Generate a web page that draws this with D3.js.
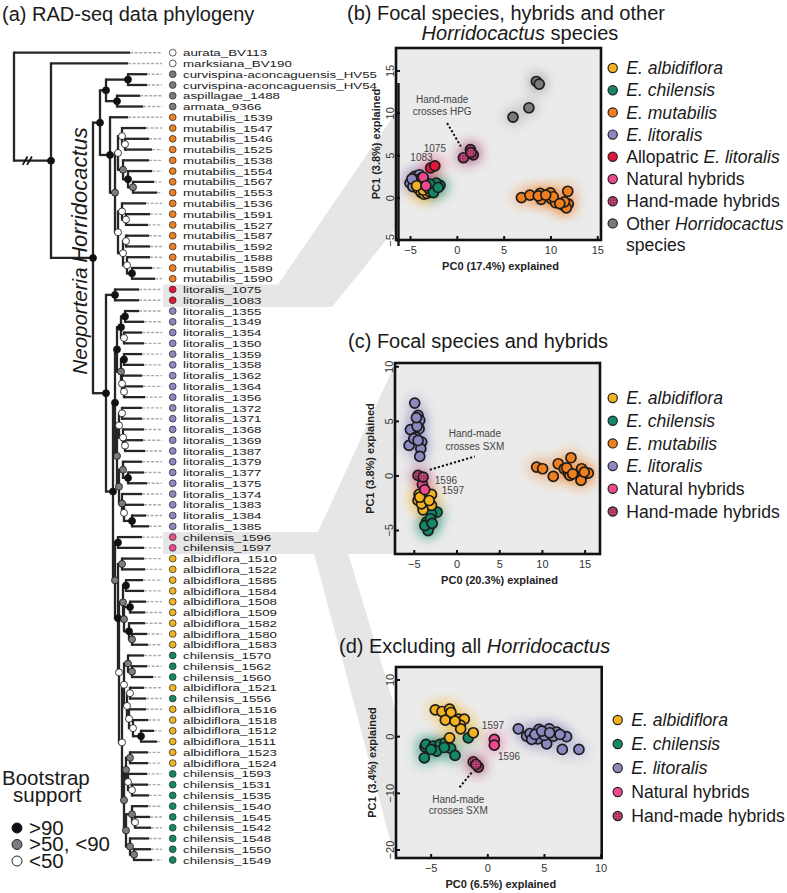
<!DOCTYPE html>
<html><head><meta charset="utf-8">
<script src="https://cdn.jsdelivr.net/npm/d3@7"></script>
<style>
body{margin:0;background:#fff}
svg{display:block;font-family:"Liberation Sans",Arial,Helvetica,sans-serif}
</style>
</head><body>
<svg id="fig" width="787" height="893"></svg>
<script>
// ================= DATA =================
// Phylogeny (Newick). Number after ':' = node depth from root (arbitrary units);
// internal-node labels = bootstrap class: b >90, g >50 <90, w <50
const treeNewick = "(aurata_BV113:116,(marksiana_BV190:114,((((curvispina-aconcaguensis_HV55:133,curvispina-aconcaguensis_HV54:133)b:114,(aspillagae_1488:126,armata_9366:129)b:103)b:92,(mutabilis_1539:114,(((mutabilis_1547:132,(mutabilis_1546:135,mutabilis_1525:138)w:111)w:108,(mutabilis_1538:135,(mutabilis_1554:138,(mutabilis_1567:140,mutabilis_1553:143)g:119)b:114)g:109)w:104,((mutabilis_1536:132,(mutabilis_1591:136,mutabilis_1527:134)w:112)w:108,((mutabilis_1587:135,mutabilis_1592:136)w:112,(mutabilis_1588:136,(mutabilis_1589:138,mutabilis_1590:141)b:118)w:113)w:109)w:104)g:101)b:96)b:86,((litoralis_1075:125,litoralis_1083:125)b:101,(((((litoralis_1355:125,litoralis_1349:130)b:111,(litoralis_1354:128,litoralis_1350:130)w:110)b:107,((litoralis_1359:128,litoralis_1358:130)b:110,(litoralis_1362:128,(litoralis_1364:129,litoralis_1356:131)w:110)w:108)g:107)b:103,(((litoralis_1372:128,litoralis_1371:128)w:108,(litoralis_1368:130,(litoralis_1369:129,litoralis_1387:131)w:111)w:109)w:105,((litoralis_1379:128,(litoralis_1377:130,litoralis_1375:133)b:114)g:109,(litoralis_1374:128,(litoralis_1383:130,(litoralis_1384:132,litoralis_1385:135)b:118)w:110)g:108)g:105)g:103)b:101,((chilensis_1596:128,chilensis_1597:130)b:104,((albidiflora_1510:130,albidiflora_1522:131)g:108,(((albidiflora_1585:129,albidiflora_1584:130)b:112,((albidiflora_1508:132,albidiflora_1509:131)b:116,(albidiflora_1582:131,(albidiflora_1580:133,albidiflora_1583:134)g:118)b:115)g:110)g:109,(((chilensis_1570:130,(chilensis_1562:133,chilensis_1560:139)g:118)g:114,((albidiflora_1521:130,chilensis_1556:132)w:116,(albidiflora_1516:132,(albidiflora_1518:134,(albidiflora_1512:140,albidiflora_1511:143)b:127)w:119)w:115)w:113)w:110,(((albidiflora_1523:134,albidiflora_1524:134)g:116,(chilensis_1593:133,(chilensis_1531:134,chilensis_1535:135)w:118)w:114)g:112,((chilensis_1540:134,(chilensis_1545:136,chilensis_1542:137)w:121)g:118,(chilensis_1548:135,(chilensis_1550:137,chilensis_1549:138)g:120)g:116)g:112)g:110)w:108)w:105)b:104)g:101)b:99)b:92)b:79)b:37)r:0;";

const outgroupTips = ["aurata_BV113","marksiana_BV190"];
const otherHorridoTips = ["curvispina-aconcaguensis_HV55","curvispina-aconcaguensis_HV54","aspillagae_1488","armata_9366"];
const allopatricTips = ["litoralis_1075","litoralis_1083"];
const naturalHybridTips = ["chilensis_1596","chilensis_1597"];

// PCA (b) all Horridocactus
const bAlbidiflora = [[-4.1,1.0],[-3.8,0.6],[-3.5,0.4],[-3.2,0.5],[-2.9,0.7],[-3.6,0.9],[-4.3,1.4],[-3.0,1.1]];
const bChilensis   = [[-1.8,1.45],[-2.6,1.0],[-2.2,1.7],[-2.9,1.6],[-2.5,0.6],[-2.0,1.2]];
const bMutabilis   = [[6.9,0.0],[7.8,0.3],[8.9,0.5],[9.0,-0.2],[10.0,0.55],[10.1,-0.15],[10.55,-0.6],[11.4,-0.9],[11.85,0.75],[11.9,-0.75],[11.7,-1.2],[10.3,0.1],[8.7,0.2],[11.5,-0.5],[9.5,0.3],[11.0,-0.7]];
const bLitoralis   = [[-5.0,1.7],[-4.5,2.5],[-4.0,2.7],[-4.7,1.3],[-4.2,2.1],[-3.7,2.4],[-4.4,1.9],[-3.9,1.6],[-4.8,2.2],[-3.5,2.0]];
const bAllopatric  = [[-2.8,3.5],[-2.35,3.75]];
const bNatural     = [[-3.6,2.4],[-3.3,1.4]];
const bHandmade    = [[0.7,4.7],[1.45,5.65],[1.75,5.05],[1.5,5.3]];
const bOther       = [[8.5,13.7],[8.8,13.4],[7.7,10.6],[6.0,9.5]];

// PCA (c) focal species and hybrids
const cAlbidiflora = [[-4.38,-1.74],[-2.93,-1.74],[-4.5,-2.29],[-2.93,-2.75],[-3.91,-3.15],[-4.1,-2.6],[-3.2,-2.3],[-4.3,-2.0]];
const cChilensis   = [[-3.63,-1.93],[-2.27,-3.37],[-2.93,-3.52],[-3.52,-4.28],[-3.13,-4.59],[-3.33,-5.05],[-3.7,-4.6],[-3.05,-3.97],[-2.85,-4.4]];
const cMutabilis   = [[9.38,0.76],[10.08,0.61],[11.33,-0.09],[11.91,1.07],[12.62,0.61],[13.4,1.62],[13.09,0.21],[13.28,0.0],[14.65,0.61],[14.77,0.0],[14.57,-0.46],[15.43,0.21],[14.96,0.3],[12.9,0.7],[13.6,0.15]];
const cLitoralis   = [[-4.89,6.63],[-4.5,5.5],[-4.3,5.05],[-5.39,4.19],[-4.38,4.28],[-4.77,3.51],[-4.07,3.06],[-5.55,2.75],[-4.18,2.45],[-4.3,1.74],[-4.62,4.5],[-5.0,3.37],[-4.5,3.2],[-4.69,5.29]];
const cNatural     = [[-3.99,-0.83],[-3.72,-1.31]];
const cHandmade    = [[-4.5,0.0],[-3.91,-0.15]];

// PCA (d) excluding Horridocactus
const dAlbidiflora = [[-4.59,4.65],[-4.0,4.35],[-3.33,4.76],[-3.21,4.17],[-3.71,2.82],[-2.53,3.0],[-2.03,3.0],[-2.38,1.94],[-2.35,1.3],[-1.24,0.6],[-3.33,-0.29],[-2.85,2.65]];
const dChilensis   = [[-5.5,-1.88],[-5.41,-1.46],[-4.77,-1.76],[-4.17,-1.46],[-3.73,-1.17],[-4.47,-2.65],[-3.23,-2.17],[-2.85,-3.4],[-5.56,-3.82],[-1.68,-0.29],[-4.97,-2.35],[-3.8,-2.0]];
const dLitoralis   = [[2.74,1.3],[3.47,0.0],[3.77,0.47],[4.56,1.18],[5.47,1.3],[6.12,0.71],[7.0,-0.1],[6.62,-2.35],[8.09,-2.35],[5.24,-1.35],[4.45,-0.47],[3.92,-0.58],[5.83,0.0],[5.03,0.12],[4.21,0.3],[4.8,0.9],[6.42,0.3],[5.5,0.6]];
const dNatural     = [[0.62,-0.58],[0.62,-1.59]];
const dHandmade    = [[-1.24,-4.52],[-0.79,-5.46],[-1.0,-5.0]];

// Axis ticks
const bXTicks = [-5,0,5,10,15], bYTicks = [-5,0,5,10,15];
const cXTicks = [-5,0,5,10,15], cYTicks = [-5,0,5,10];
const dXTicks = [-5,0,5,10],    dYTicks = [-20,-10,0,10];

// Legends
const legendB = ["albidiflora","chilensis","mutabilis","litoralis","allopatric","natural","handmade","other"];
const legendC = ["albidiflora","chilensis","mutabilis","litoralis","natural","handmade"];
const legendD = ["albidiflora","chilensis","litoralis","natural","handmade"];
const bootstrapClasses = [["b",">90"],["g",">50, <90"],["w","<50"]];

// ================= STYLE =================
const colors = {albidiflora:"#f3b21f", chilensis:"#138869", mutabilis:"#f07f1f", litoralis:"#8b89c0",
  allopatric:"#e0173a", natural:"#ec4a8d", handmade:"#9e2e5e", other:"#7a7a7a", outgroup:"#ffffff"};
const supportFill = {b:"#111", g:"#7d7d7d", w:"#fff"};
const legendText = {
  albidiflora:[["E. albidiflora",1]], chilensis:[["E. chilensis",1]], mutabilis:[["E. mutabilis",1]],
  litoralis:[["E. litoralis",1]], allopatric:[["Allopatric ",0],["E. litoralis",1]],
  natural:[["Natural hybrids",0]], handmade:[["Hand-made hybrids",0]], other:[["Other ",0],["Horridocactus",1]]
};

const svg = d3.select("#fig");
const defs = svg.append("defs");
const pat = defs.append("pattern").attr("id","hmpat").attr("width",2.6).attr("height",2.6).attr("patternUnits","userSpaceOnUse");
pat.append("rect").attr("width",2.6).attr("height",2.6).attr("fill",colors.handmade);
pat.append("circle").attr("cx",1.3).attr("cy",1.3).attr("r",0.65).attr("fill","#f27bab");
defs.append("filter").attr("id","blur").attr("x","-50%").attr("y","-50%").attr("width","200%").attr("height","200%")
  .append("feGaussianBlur").attr("stdDeviation",5.5);
const fillOf = g => g==="handmade" ? "url(#hmpat)" : colors[g];

// ================= CONNECTOR BANDS =================
const bandFill = "#e6e6e6";
[
  [[163,284.5],[278,284.5],[396,112],[396,228],[332,307],[163,307]],
  [[163,532],[318,532],[396,362],[396,554],[163,554]],
  [[314,553],[348,553],[396,712],[396,862]]
].forEach(p => svg.append("polygon").attr("points", p.map(q=>q.join(",")).join(" ")).attr("fill", bandFill));

// ================= TREE =================
function parseNewick(s){
  let i=0;
  function node(){
    const n={children:[]};
    if(s[i]==="("){ i++; n.children.push(node()); while(s[i]===","){ i++; n.children.push(node()); } i++; }
    let lab=""; while(i<s.length && !":,);".includes(s[i])) lab+=s[i++];
    let len=""; if(s[i]===":"){ i++; while(i<s.length && !",);".includes(s[i])) len+=s[i++]; }
    if(n.children.length) n.support=lab; else n.name=lab;
    n.h=+len;
    return n;
  }
  return node();
}
const root = d3.hierarchy(parseNewick(treeNewick), d => d.children.length ? d.children : null);
const leaves = root.leaves();
const tipY = d3.scaleLinear().domain([0, leaves.length-1]).range([52.7, 860]);
const treeX = d3.scaleLinear().domain([0,148]).range([14,162]);
leaves.forEach((l,i)=> l.y = tipY(i));
root.eachAfter(n => { if(n.children) n.y = (n.children[0].y + n.children[n.children.length-1].y)/2; });
root.each(n => n.x = treeX(n.data.h));

const tg = svg.append("g");
const branchCol = "#262626";
tg.selectAll("line.ext").data(leaves).join("line")
  .attr("x1", d=>d.x).attr("x2", treeX(148)).attr("y1", d=>d.y).attr("y2", d=>d.y)
  .attr("stroke","#a9a9a9").attr("stroke-width",1.4).attr("stroke-dasharray","3,1.6");
tg.selectAll("line.h").data(root.descendants().filter(n=>n.parent)).join("line")
  .attr("x1", d=>d.parent.x).attr("x2", d=>d.x).attr("y1", d=>d.y).attr("y2", d=>d.y)
  .attr("stroke",branchCol).attr("stroke-width",2.3);
tg.selectAll("line.v").data(root.descendants().filter(n=>n.children)).join("line")
  .attr("x1", d=>d.x).attr("x2", d=>d.x)
  .attr("y1", d=>d.children[0].y-1.1).attr("y2", d=>d.children[d.children.length-1].y+1.1)
  .attr("stroke",branchCol).attr("stroke-width",2.3);
const brk = root.children[1];
const bx = treeX(brk.data.h*0.36), by = brk.y;
[-2.2,2.2].forEach(o => tg.append("line").attr("x1",bx+o-2.4).attr("y1",by+4.2).attr("x2",bx+o+2.4).attr("y2",by-4.2)
  .attr("stroke","#111").attr("stroke-width",1.7));
tg.selectAll("circle.bs").data(root.descendants().filter(n=>n.children && supportFill[n.data.support])).join("circle")
  .attr("cx", d=>d.x).attr("cy", d=>d.y).attr("r",3.5)
  .attr("fill", d=>supportFill[d.data.support]).attr("stroke","#111").attr("stroke-width",0.8);

function tipGroup(name){
  if(outgroupTips.includes(name)) return "outgroup";
  if(otherHorridoTips.includes(name)) return "other";
  if(allopatricTips.includes(name)) return "allopatric";
  if(naturalHybridTips.includes(name)) return "natural";
  return name.split("_")[0];
}
tg.selectAll("circle.tip").data(leaves).join("circle")
  .attr("cx",172.7).attr("cy",d=>d.y).attr("r",3.4)
  .attr("fill", d=>colors[tipGroup(d.data.name)]).attr("stroke","#333").attr("stroke-width",0.8);
tg.selectAll("text.tip").data(leaves).join("text")
  .attr("transform", d=>`translate(183,${d.y+3.6}) scale(1.36,1)`)
  .attr("font-size",9.8).attr("fill","#1a1a1a")
  .text(d=>d.data.name);

// clade labels
svg.append("text").attr("transform","translate(87,195) rotate(-90)").attr("text-anchor","middle")
  .attr("font-size",22).attr("font-style","italic").attr("fill","#1a1a1a").text("Horridocactus");
svg.append("text").attr("transform","translate(87,321) rotate(-90)").attr("text-anchor","middle")
  .attr("font-size",20.5).attr("font-style","italic").attr("fill","#1a1a1a").text("Neoporteria");

// bootstrap legend
svg.append("text").attr("x",2).attr("y",785).attr("font-size",20.5).attr("fill","#1a1a1a").text("Bootstrap");
svg.append("text").attr("x",13).attr("y",802).attr("font-size",20.5).attr("fill","#1a1a1a").text("support");
bootstrapClasses.forEach((c,i)=>{
  const y = 828 + i*16.5;
  svg.append("circle").attr("cx",17).attr("cy",y).attr("r",5).attr("fill",supportFill[c[0]]).attr("stroke","#111").attr("stroke-width",0.9);
  svg.append("text").attr("x",29).attr("y",y+6.5).attr("font-size",20.5).attr("fill","#1a1a1a").text(c[1]);
});

// ================= TITLES =================
svg.append("text").attr("x",2).attr("y",21).attr("font-size",20).attr("fill","#1a1a1a").text("(a) RAD-seq data phylogeny");
svg.append("text").attr("x",347).attr("y",19.5).attr("font-size",20).attr("fill","#1a1a1a").text("(b) Focal species, hybrids and other");
const t2 = svg.append("text").attr("x",520).attr("y",40).attr("text-anchor","middle").attr("font-size",20).attr("fill","#1a1a1a");
t2.append("tspan").attr("font-style","italic").text("Horridocactus");
t2.append("tspan").text(" species");
svg.append("text").attr("x",348).attr("y",348).attr("font-size",20).attr("fill","#1a1a1a").text("(c) Focal species and hybrids");
const t4 = svg.append("text").attr("x",339).attr("y",653).attr("font-size",20).attr("fill","#1a1a1a");
t4.append("tspan").text("(d) Excluding all ");
t4.append("tspan").attr("font-style","italic").text("Horridocactus");

// ================= PCA PANELS =================
function panel(cfg){
  const {x0,x1,y0,y1,xd,yd,xt,yt,series,xlab,ylab,ylabX,notes,lines,extraSpine} = cfg;
  const x = d3.scaleLinear().domain(xd).range([x0,x1]);
  const y = d3.scaleLinear().domain(yd).range([y1,y0]);
  const g = svg.append("g");
  const cid = "clip"+Math.round(y0);
  defs.append("clipPath").attr("id",cid).append("rect").attr("x",x0).attr("y",y0).attr("width",x1-x0).attr("height",y1-y0);
  g.append("rect").attr("x",x0).attr("y",y0).attr("width",x1-x0).attr("height",y1-y0).attr("fill","#ebebeb");
  const halo = g.append("g").attr("clip-path",`url(#${cid})`).append("g").attr("filter","url(#blur)");
  series.forEach(([grp,pts]) => halo.selectAll(null).data(pts).join("circle")
    .attr("cx",d=>x(d[0])).attr("cy",d=>y(d[1])).attr("r",10)
    .attr("fill", colors[grp]).attr("fill-opacity",0.28));
  series.forEach(([grp,pts]) => g.selectAll(null).data(pts).join("circle")
    .attr("cx",d=>x(d[0])).attr("cy",d=>y(d[1])).attr("r",5)
    .attr("fill", fillOf(grp)).attr("stroke","#1c1c1c").attr("stroke-width",1.7));
  (lines||[]).forEach(l => g.append("line").attr("x1",x(l[0][0])).attr("y1",y(l[0][1])).attr("x2",x(l[1][0])).attr("y2",y(l[1][1]))
    .attr("stroke","#111").attr("stroke-width",2).attr("stroke-dasharray","2.2,2"));
  (notes||[]).forEach(n => g.append("text").attr("x",x(n[0])).attr("y",y(n[1])).attr("text-anchor",n[3]||"middle")
    .attr("font-size",10).attr("fill","#444").text(n[2]));
  const ax = g.append("g").attr("transform",`translate(0,${y1})`)
    .call(d3.axisBottom(x).tickValues(xt).tickSize(-4).tickPadding(6.5));
  const ay = g.append("g").attr("transform",`translate(${x0},0)`)
    .call(d3.axisLeft(y).tickValues(yt).tickSize(-4).tickPadding(0));
  [ax,ay].forEach(a => { a.select(".domain").remove(); a.selectAll("line").attr("stroke","#111").attr("stroke-width",2);
    a.selectAll("text").attr("font-size",11).attr("fill","#333").attr("font-family","Liberation Sans, Arial, sans-serif"); });
  ay.selectAll("text").attr("transform","rotate(-90)").attr("text-anchor","middle").attr("x",0).attr("y",-2).attr("dy",0);
  if(extraSpine) g.append("line").attr("x1",x0+2.5).attr("x2",x0+2.5).attr("y1",extraSpine[0]).attr("y2",extraSpine[1])
    .attr("stroke","#111").attr("stroke-width",2.4);
  g.append("rect").attr("x",x0).attr("y",y0).attr("width",x1-x0).attr("height",y1-y0)
    .attr("fill","none").attr("stroke","#111").attr("stroke-width",2.6);
  g.append("text").attr("x",(x0+x1)/2+2).attr("y",y1+30).attr("text-anchor","middle")
    .attr("font-size",11).attr("font-weight","bold").attr("fill","#222").text(xlab);
  g.append("text").attr("transform",`translate(${ylabX},${(y0+y1)/2}) rotate(-90)`).attr("text-anchor","middle")
    .attr("font-size",11).attr("font-weight","bold").attr("fill","#222").text(ylab);
}

function legend(items, lx, ly, step){
  items.forEach((k,i)=>{
    const cy = ly + i*step;
    svg.append("circle").attr("cx",lx).attr("cy",cy).attr("r",4.6).attr("fill",fillOf(k)).attr("stroke","#222").attr("stroke-width",1.2);
    const t = svg.append("text").attr("x",lx+13.5).attr("y",cy+6.2).attr("font-size",17.6).attr("fill","#1a1a1a");
    legendText[k].forEach(p => t.append("tspan").attr("font-style",p[1]?"italic":"normal").text(p[0]));
  });
}

panel({x0:396,x1:601,y0:48,y1:240,xd:[-6.5,15.4],yd:[-5,17.65],xt:bXTicks,yt:bYTicks,ylabX:380,
  xlab:"PC0 (17.4%) explained", ylab:"PC1 (3.8%) explained", extraSpine:[83,246],
  series:[["litoralis",bLitoralis],["albidiflora",bAlbidiflora],["chilensis",bChilensis],["natural",bNatural],
          ["allopatric",bAllopatric],["handmade",bHandmade],["mutabilis",bMutabilis],["other",bOther]],
  notes:[[-2.35,5.4,"1075"],[-3.78,4.35,"1083"],[-1.57,11.2,"Hand-made"],[-1.57,9.75,"crosses HPG"]],
  lines:[[[-1.04,8.79],[0.43,6.04]]]});
panel({x0:395,x1:600,y0:363,y1:554,xd:[-7.2,16.8],yd:[-7.2,10.3],xt:cXTicks,yt:cYTicks,ylabX:374,
  xlab:"PC0 (20.3%) explained", ylab:"PC1 (3.8%) explained",
  series:[["litoralis",cLitoralis],["mutabilis",cMutabilis],["chilensis",cChilensis],["albidiflora",cAlbidiflora],
          ["natural",cNatural],["handmade",cHandmade]],
  notes:[[-2.54,-0.83,"1596","start"],[-1.72,-1.74,"1597","start"],[2.15,3.49,"Hand-made"],[2.15,2.29,"crosses SXM"]],
  lines:[[[-3.13,0.52],[2.15,1.74]]]});
panel({x0:396,x1:601.7,y0:667,y1:858,xd:[-8.06,10.1],yd:[-21.5,12.2],xt:dXTicks,yt:dYTicks,ylabX:376,
  xlab:"PC0 (6.5%) explained", ylab:"PC1 (3.4%) explained",
  series:[["chilensis",dChilensis],["albidiflora",dAlbidiflora],["litoralis",dLitoralis],["natural",dNatural],["handmade",dHandmade]],
  notes:[[0.5,1.18,"1597"],[1.92,-4.29,"1596"],[-2.56,-11.87,"Hand-made"],[-2.56,-13.8,"crosses SXM"]],
  lines:[[[-1.38,-6.45],[-2.56,-9.28]]]});

legend(legendB, 612.7, 68, 22.2);
svg.append("text").attr("x",626).attr("y",251).attr("font-size",17.6).attr("fill","#1a1a1a").text("species");
legend(legendC, 612.7, 398, 22.7);
legend(legendD, 617.7, 720, 24);
</script>
</body></html>
